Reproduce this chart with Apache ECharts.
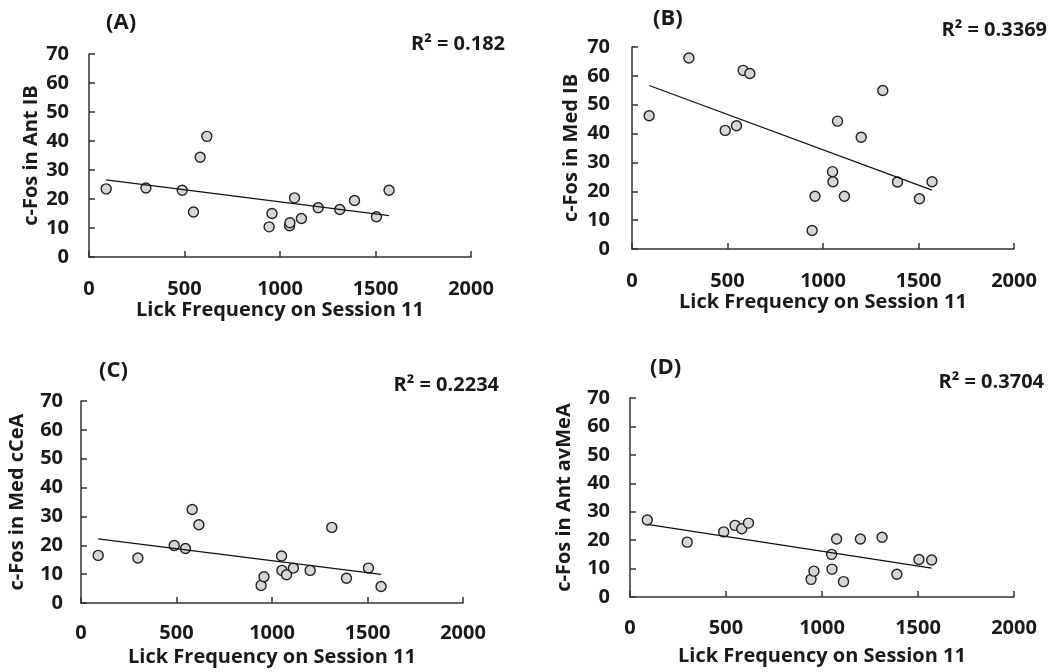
<!DOCTYPE html>
<html>
<head>
<meta charset="utf-8">
<title>c-Fos vs lick frequency</title>
<script src="https://cdn.jsdelivr.net/npm/echarts@6/dist/echarts.min.js"></script>
<style>
  html, body { margin: 0; padding: 0; background: #fff; }
  #chart { width: 1054px; height: 672px; }
</style>
</head>
<body>
<div id="chart"></div>
<script>
// lick frequency on session 11 (same animals in every panel)
var lickFreq = [90, 298, 488, 547, 582, 617, 943, 958, 1050, 1052, 1076, 1112, 1200, 1313, 1390, 1505, 1571];

// c-Fos counts per region
var antIB = [23.5, 23.8, 23.0, 15.5, 34.4, 41.6, 10.4, 15.0, 10.8, 11.8, 20.4, 13.3, 17.0, 16.4, 19.5, 13.9, 23.0];
var medIB = [46.2, 66.2, 41.1, 42.7, 61.9, 60.8, 6.4, 18.3, 26.8, 23.3, 44.3, 18.3, 38.7, 54.9, 23.2, 17.4, 23.3];
var medCCeA = [16.5, 15.6, 19.9, 18.9, 32.4, 27.1, 6.1, 9.1, 16.3, 11.3, 9.8, 12.1, 11.3, 26.2, 8.6, 12.1, 5.7];
var antAvMeA = [27.1, 19.3, 22.9, 25.2, 24.0, 26.0, 6.2, 9.1, 15.0, 9.8, 20.4, 5.4, 20.4, 21.0, 8.0, 13.2, 13.0];

var panelLetters = ["(A)", "(B)", "(C)", "(D)"];
var yNames = ["c-Fos in Ant IB", "c-Fos in Med IB", "c-Fos in Med cCeA", "c-Fos in Ant avMeA"];
var r2Labels = ["R\u00b2 = 0.182", "R\u00b2 = 0.3369", "R\u00b2 = 0.2234", "R\u00b2 = 0.3704"];
var xName = "Lick Frequency on Session 11";
var xTicks = [0, 2000, 500];
var yTicks = [0, 70, 10];

var panelData = [antIB, medIB, medCCeA, antAvMeA];

// layout of each panel
var grids = [
  { left: 89, top: 54, width: 382, height: 203 },
  { left: 632, top: 47, width: 382, height: 202 },
  { left: 81, top: 401, width: 382, height: 202 },
  { left: 630, top: 398, width: 384, height: 199 }
];
var yNameGap = [48, 51, 54, 56];
var yLabelMargin = [20, 22, 18, 20];
var xLabelMargin = [22, 22, 20, 21];
var xNameGap = [43, 43, 44, 49];
var letterPos = [[106, 27], [653, 23], [99, 375], [650, 372]];
var r2Pos = [[505, 44], [1047, 30], [499, 385], [1044, 382]];

var FONT = "'Open Sans', 'Liberation Sans', sans-serif";
var INK = "#1a1a1a";

function fitLine(xs, ys) {
  var n = xs.length, sx = 0, sy = 0, sxx = 0, sxy = 0;
  for (var i = 0; i < n; i++) {
    sx += xs[i]; sy += ys[i];
    sxx += xs[i] * xs[i]; sxy += xs[i] * ys[i];
  }
  var b = (n * sxy - sx * sy) / (n * sxx - sx * sx);
  var a = (sy - b * sx) / n;
  var x0 = Math.min.apply(null, xs), x1 = Math.max.apply(null, xs);
  return [[x0, a + b * x0], [x1, a + b * x1]];
}

var xAxes = [], yAxes = [], series = [], graphics = [];

panelData.forEach(function (vals, i) {
  xAxes.push({
    type: "value",
    gridIndex: i,
    min: xTicks[0],
    max: xTicks[1],
    interval: xTicks[2],
    name: xName,
    nameLocation: "middle",
    nameGap: xNameGap[i],
    nameTextStyle: { color: INK, fontFamily: FONT, fontWeight: "bold", fontSize: 20 },
    splitLine: { show: false },
    axisLine: { onZero: false, lineStyle: { color: "#333", width: 1.5 } },
    axisTick: { inside: true, length: 6, lineStyle: { color: "#333", width: 1.5 } },
    axisLabel: {
      margin: xLabelMargin[i], color: INK, fontFamily: FONT, fontWeight: "bold", fontSize: 20,
      formatter: function (v) { return String(v); }
    }
  });
  yAxes.push({
    type: "value",
    gridIndex: i,
    min: yTicks[0],
    max: yTicks[1],
    interval: yTicks[2],
    name: yNames[i],
    nameLocation: "middle",
    nameGap: yNameGap[i],
    nameTextStyle: { color: INK, fontFamily: FONT, fontWeight: "bold", fontSize: 20 },
    splitLine: { show: false },
    axisLine: { show: true, onZero: false, lineStyle: { color: "#333", width: 1.5 } },
    axisTick: { show: true, inside: true, length: 6, lineStyle: { color: "#333", width: 1.5 } },
    axisLabel: { margin: yLabelMargin[i], color: INK, fontFamily: FONT, fontWeight: "bold", fontSize: 20 }
  });

  series.push({
    type: "scatter",
    xAxisIndex: i,
    yAxisIndex: i,
    symbolSize: 10,
    itemStyle: { color: "#d6d6d6", borderColor: "#222", borderWidth: 1.4, opacity: 1 },
    data: lickFreq.map(function (x, k) { return [x, vals[k]]; }),
    z: 2
  });
  // linear trendline over the points
  series.push({
    type: "line",
    xAxisIndex: i,
    yAxisIndex: i,
    symbol: "none",
    lineStyle: { color: "#111", width: 1.2 },
    data: fitLine(lickFreq, vals),
    z: 3
  });

  graphics.push({
    type: "text",
    left: letterPos[i][0],
    top: letterPos[i][1] - 15,
    style: { text: panelLetters[i], fill: INK, font: "bold 22px " + FONT }
  });
  graphics.push({
    type: "text",
    x: r2Pos[i][0],
    y: r2Pos[i][1],
    style: { text: r2Labels[i], fill: INK, font: "bold 20px " + FONT, align: "right", verticalAlign: "middle" }
  });
});

var chart = echarts.init(document.getElementById("chart"));
chart.setOption({
  backgroundColor: "#fff",
  animation: false,
  grid: grids,
  xAxis: xAxes,
  yAxis: yAxes,
  series: series,
  graphic: graphics
});
</script>
</body>
</html>
